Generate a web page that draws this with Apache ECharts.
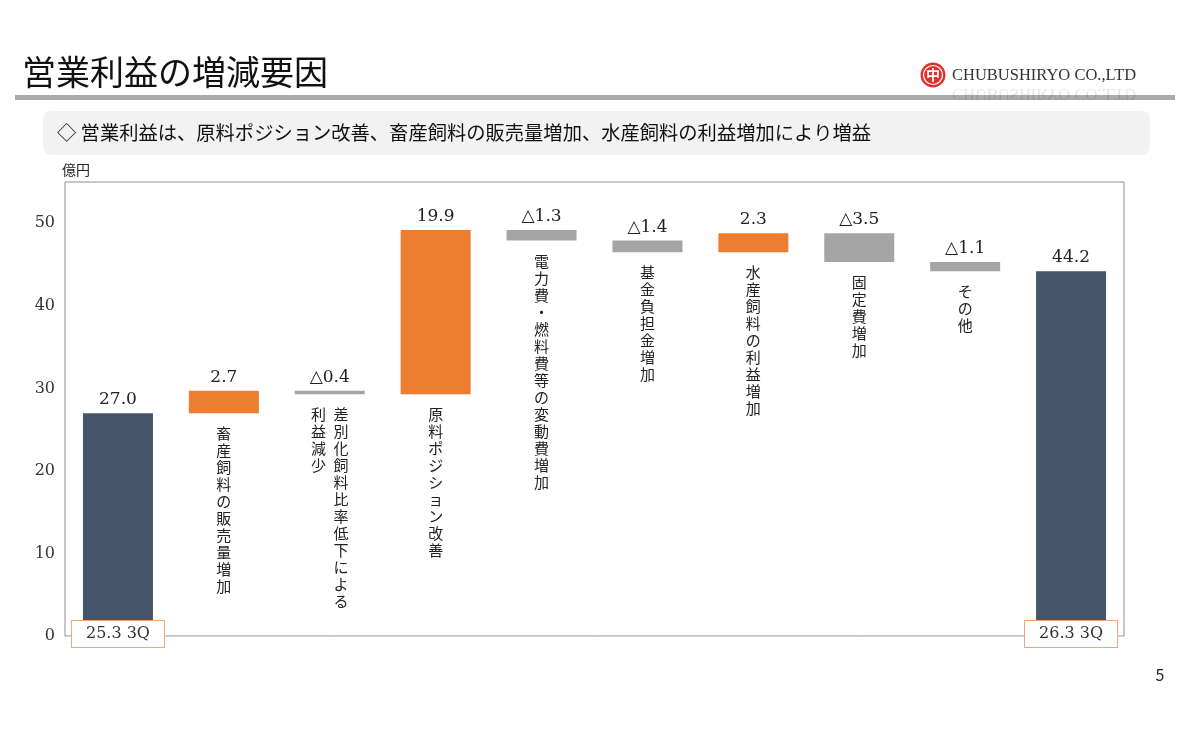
<!DOCTYPE html>
<html>
<head>
<meta charset="utf-8">
<script src="https://cdn.jsdelivr.net/npm/echarts@6/dist/echarts.min.js"></script>
<style>
  html, body { margin: 0; padding: 0; background: #fff; }
  #chart { width: 1190px; height: 730px; }
</style>
</head>
<body>
<div id="chart"></div>
<script>
// categories (the 2nd line of a name is the second vertical column)
const categories = [
  '25.3 3Q',
  '畜産飼料の販売量増加',
  '差別化飼料比率低下による\n利益減少',
  '原料ポジション改善',
  '電力費・燃料費等の変動費増加',
  '基金負担金増加',
  '水産飼料の利益増加',
  '固定費増加',
  'その他',
  '26.3 3Q'
];
const values = [27.0, 2.7, -0.4, 19.9, -1.3, -1.4, 2.3, -3.5, -1.1, 44.2];
const barTypes = ['total', 'up', 'down', 'up', 'down', 'down', 'up', 'down', 'down', 'total'];
const yTicks = [0, 10, 20, 30, 40, 50];

const colors = { total: '#44546A', up: '#ED7D31', down: '#A5A5A5' };
const jpFont = '"Noto Sans CJK JP", "Noto Sans", sans-serif';
const numFont = '"DejaVu Serif", "Liberation Serif", serif';

// build waterfall base + visible heights
const base = [];
const height = [];
let run = 0;
values.forEach((v, i) => {
  if (barTypes[i] === 'total') {
    base.push(0); height.push(v); run = v;
  } else if (v >= 0) {
    base.push(run); height.push(v); run += v;
  } else {
    run += v; base.push(run); height.push(-v);
  }
});

// vertical japanese text, first column on the right
function vertical(text) {
  const cols = text.split('\n').map(c => Array.from(c)).reverse();
  const n = Math.max(...cols.map(c => c.length));
  const lines = [];
  for (let i = 0; i < n; i++) {
    lines.push(cols.map(c => c[i] || '\u3000').join('\u2002'));
  }
  return lines.join('\n');
}

function valueText(i) {
  const v = values[i];
  return v < 0 ? '\u25B3' + (-v).toFixed(1) : v.toFixed(1);
}

const chart = echarts.init(document.getElementById('chart'));

const option = {
  animation: false,
  grid: {
    left: 65, right: 66, top: 182, bottom: 94,
    show: true, borderColor: '#8F8F8F', borderWidth: 1
  },
  xAxis: {
    type: 'category',
    data: categories,
    z: 5,
    axisLine: { lineStyle: { color: '#D0D0D0', width: 1 } },
    axisTick: { show: false },
    axisLabel: {
      interval: 0,
      margin: -15,
      formatter: (val, idx) => barTypes[idx] === 'total' ? '{b|' + val + '}' : '',
      rich: {
        b: {
          fontFamily: numFont, fontSize: 16, color: '#333',
          backgroundColor: '#fff', borderColor: '#E9A77E', borderWidth: 1,
          padding: [5, 14, 5, 14]
        }
      }
    }
  },
  yAxis: {
    type: 'value',
    min: 0, max: 55, interval: 10,
    axisLine: { show: false },
    axisTick: { show: false },
    splitLine: { show: false },
    axisLabel: {
      margin: 10, color: '#333', fontFamily: numFont, fontSize: 16,
      showMaxLabel: false,
      formatter: v => yTicks.includes(v) ? String(v) : ''
    }
  },
  series: [
    {
      type: 'bar',
      stack: 'w',
      barWidth: 70,
      itemStyle: { color: 'transparent' },
      emphasis: { disabled: true },
      data: base.map((b, i) => ({
        value: b,
        label: {
          show: barTypes[i] !== 'total',
          position: 'insideTop',
          distance: 12,
          formatter: () => vertical(categories[i]),
          fontFamily: jpFont, fontSize: 15, lineHeight: 17, color: '#222',
          align: 'center'
        }
      }))
    },
    {
      type: 'bar',
      stack: 'w',
      barWidth: 70,
      data: height.map((h, i) => ({
        value: h,
        itemStyle: { color: colors[barTypes[i]] }
      })),
      label: {
        show: true,
        position: 'top',
        distance: 5,
        fontFamily: numFont, fontSize: 17, color: '#222',
        formatter: p => valueText(p.dataIndex)
      }
    }
  ],
  graphic: [
    { type: 'text', left: 22, top: 55,
      style: { text: '営業利益の増減要因', font: '34px ' + jpFont, fill: '#111' } },
    { type: 'rect', shape: { x: 15, y: 95, width: 1160, height: 5 },
      style: { fill: '#ABABAB' } },
    // logo
    { type: 'circle', shape: { cx: 933, cy: 75, r: 12.5 }, style: { fill: '#E0322A' } },
    { type: 'circle', shape: { cx: 933, cy: 75, r: 9.5 },
      style: { fill: 'none', stroke: '#fff', lineWidth: 1.2 } },
    { type: 'text', x: 933, y: 75,
      style: { text: '中', font: 'bold 14px ' + jpFont, fill: '#fff', align: 'center', verticalAlign: 'middle' } },
    { type: 'text', x: 952, y: 76,
      style: { text: 'CHUBUSHIRYO CO.,LTD', font: '16.5px "Liberation Serif", serif', fill: '#333', verticalAlign: 'middle' } },
    { type: 'text', x: 952, y: 85, scaleY: -1,
      style: { text: 'CHUBUSHIRYO CO.,LTD', font: '16.5px "Liberation Serif", serif', fill: 'rgba(0,0,0,0.1)', verticalAlign: 'bottom' } },
    // subtitle box
    { type: 'rect', shape: { x: 43, y: 111, width: 1107, height: 44, r: 8 },
      style: { fill: '#F2F2F2' } },
    { type: 'text', x: 57, y: 133,
      style: { text: '◇ 営業利益は、原料ポジション改善、畜産飼料の販売量増加、水産飼料の利益増加により増益',
        font: '19.3px ' + jpFont, fill: '#111', verticalAlign: 'middle' } },
    { type: 'text', x: 62, y: 170,
      style: { text: '億円', font: '14px ' + jpFont, fill: '#222', verticalAlign: 'middle' } },
    { type: 'text', x: 1160, y: 675,
      style: { text: '5', font: '16px ' + jpFont, fill: '#222', align: 'center', verticalAlign: 'middle' } }
  ]
};

chart.setOption(option);
</script>
</body>
</html>
